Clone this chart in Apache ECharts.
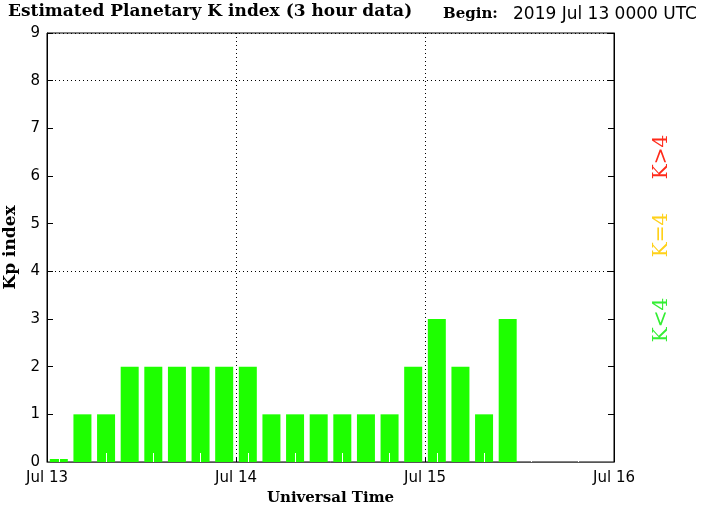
<!DOCTYPE html>
<html>
<head>
<meta charset="utf-8">
<script src="https://cdn.jsdelivr.net/npm/echarts@6/dist/echarts.min.js"></script>
<style>
  html, body { margin: 0; padding: 0; background: #fff; }
  #chart { width: 703px; height: 505px; }
</style>
</head>
<body>
<div id="chart"></div>
<script>
// 3-hour slots, Jul 13 00 UT .. Jul 15 21 UT
const slots = [
    "13 00", "13 03", "13 06", "13 09", "13 12", "13 15", "13 18", "13 21",
    "14 00", "14 03", "14 06", "14 09", "14 12", "14 15", "14 18", "14 21",
    "15 00", "15 03", "15 06", "15 09", "15 12", "15 15", "15 18", "15 21"
];
// only the first 20 slots have data yet
const kpValues = [
    0, 1, 1, 2, 2, 2, 2, 2,
    2, 1, 1, 1, 1, 1, 1, 2,
    3, 2, 1, 3
];
const dayLabels = ["Jul 13", "Jul 14", "Jul 15", "Jul 16"];

const serif = "'DejaVu Serif', serif";
const sans = "'DejaVu Sans', sans-serif";

let chart = echarts.init(document.getElementById('chart'));

let option = {
    animation: false,
    backgroundColor: '#ffffff',
    grid: {
        left: 47,
        right: 89,
        top: 33,
        bottom: 43,
        outerBoundsMode: 'none',
        containLabel: false,
        show: true,
        borderColor: '#000',
        borderWidth: 1
    },
    graphic: [
        {
            type: 'text', left: 8, top: 3,
            style: {text: 'Estimated Planetary K index (3 hour data)', font: 'bold 17px ' + serif, fill: '#000'}
        },
        {
            type: 'text', left: 443, top: 7,
            style: {text: 'Begin:', font: 'bold 15px ' + serif, fill: '#000'}
        },
        {
            type: 'text', left: 513, top: 6,
            style: {text: '2019 Jul 13 0000 UTC', font: '17px ' + sans, fill: '#000'}
        },
        {
            type: 'text', x: 662, y: 157, rotation: Math.PI / 2,
            style: {text: 'K>4', font: '20px ' + serif, fill: '#ff2a1a', align: 'center', verticalAlign: 'middle'}
        },
        {
            type: 'text', x: 662, y: 235, rotation: Math.PI / 2,
            style: {text: 'K=4', font: '20px ' + serif, fill: '#ffd11a', align: 'center', verticalAlign: 'middle'}
        },
        {
            type: 'text', x: 662, y: 320, rotation: Math.PI / 2,
            style: {text: 'K<4', font: '20px ' + serif, fill: '#33ee33', align: 'center', verticalAlign: 'middle'}
        }
    ],
    xAxis: [
        {
            type: 'category',
            data: slots,
            z: 5,
            axisLine: {show: false},
            axisLabel: {show: false},
            axisTick: {
                show: true,
                inside: true,
                alignWithLabel: true,
                length: 9,
                lineStyle: {color: '#ffffff', width: 1}
            },
            splitLine: {show: false}
        },
        {
            type: 'value',
            position: 'bottom',
            z: 6,
            min: 0,
            max: 72,
            interval: 24,
            name: 'Universal Time',
            nameLocation: 'middle',
            nameGap: 24,
            nameTextStyle: {fontFamily: serif, fontWeight: 'bold', fontSize: 15, color: '#000'},
            axisLine: {show: true, lineStyle: {color: '#555', width: 1}},
            axisTick: {show: true, inside: true, length: 4, lineStyle: {color: '#000'}},
            axisLabel: {
                margin: 9,
                fontFamily: sans,
                fontSize: 15,
                color: '#000',
                formatter: function (v) { return dayLabels[v / 24]; }
            },
            splitLine: {show: true, lineStyle: {color: '#000', type: [1, 3], width: 1}}
        }
    ],
    yAxis: [
        {
            type: 'value',
            min: 0,
            max: 9,
            interval: 1,
            name: 'Kp index',
            nameLocation: 'middle',
            nameGap: 28,
            nameTextStyle: {fontFamily: serif, fontWeight: 'bold', fontSize: 17, color: '#000'},
            axisLine: {show: true, lineStyle: {color: '#000'}},
            axisTick: {show: true, inside: true, length: 6, lineStyle: {color: '#000'}},
            axisLabel: {
                margin: 7,
                fontFamily: sans,
                fontSize: 15,
                color: '#000'
            },
            splitLine: {show: false}
        },
        {
            type: 'value',
            position: 'left',
            min: 0,
            max: 9,
            interval: 4,
            axisLine: {show: false},
            axisTick: {show: false},
            axisLabel: {show: false},
            splitLine: {show: true, lineStyle: {color: '#000', type: [1, 3], width: 1}}
        },
        {
            type: 'value',
            position: 'right',
            min: 0,
            max: 9,
            interval: 1,
            axisLine: {show: true, lineStyle: {color: '#000'}},
            axisTick: {show: true, inside: true, length: 6, lineStyle: {color: '#000'}},
            axisLabel: {show: false},
            splitLine: {show: false}
        }
    ],
    series: [
        {
            name: 'Kp',
            type: 'bar',
            xAxisIndex: 0,
            yAxisIndex: 0,
            data: kpValues,
            barWidth: 18,
            barMinHeight: 3,
            itemStyle: {color: '#1eff00'}
        }
    ]
};

chart.setOption(option);
window.onresize = chart.resize;
</script>
</body>
</html>
